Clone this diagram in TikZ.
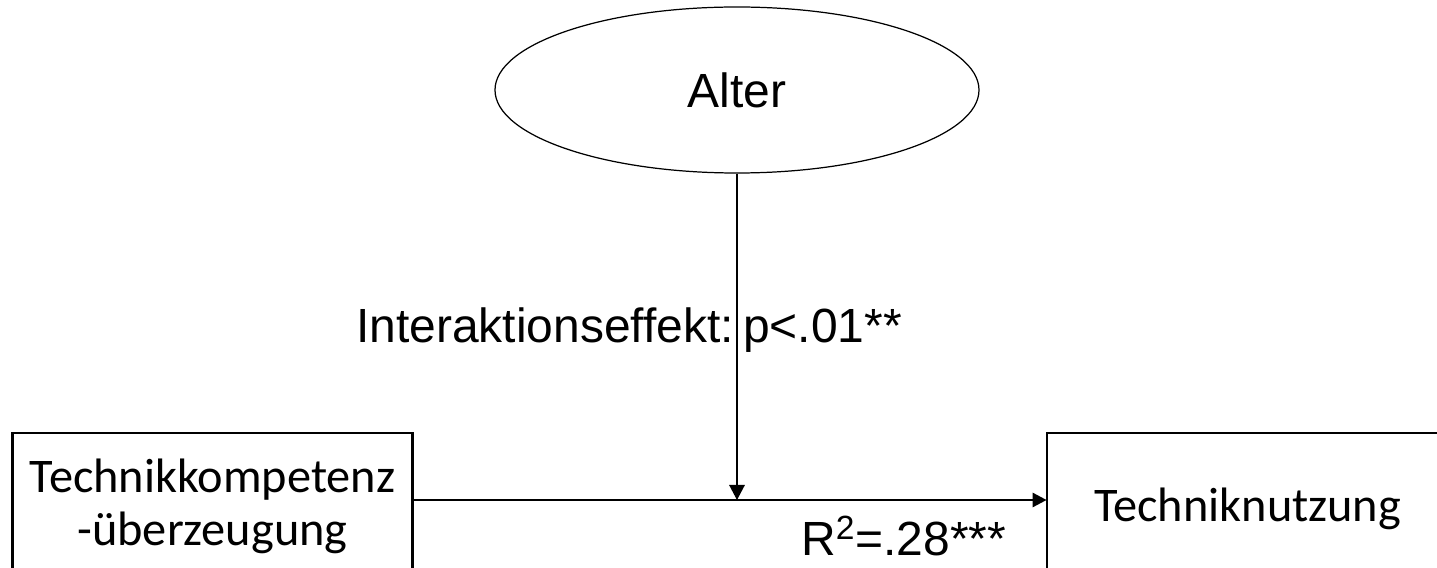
\documentclass[tikz,border=0pt]{standalone}
\usepackage{fontspec}
\setmainfont{Liberation Sans}
\newfontfamily\calibri{Carlito}
\usetikzlibrary{shapes.geometric,arrows.meta}
\begin{document}
\begin{tikzpicture}[>={Triangle[length=0.28cm,width=0.28cm]},
    textbox/.style={align=center,font=\calibri\fontsize{27.5}{30}\selectfont},
    arial/.style={font=\fontsize{27.3}{30}\selectfont}]
\clip (0,0) rectangle (28.74,11.34);
\node[ellipse,draw,line width=0.7pt,minimum width=9.68cm,minimum height=3.32cm,arial](alter) at (14.74,9.54){Alter};
\node[textbox,minimum width=8cm](kompetenz) at (4.25,1.21){Technikkompetenz\\-überzeugung};
\node[textbox,minimum width=8.02cm](nutzung) at (24.95,1.16){Techniknutzung};
\draw[line width=1.5pt](0.25,-0.5) rectangle (8.25,2.68);
\draw[line width=1.5pt](20.94,-0.5) rectangle (29.5,2.68);
\coordinate (knick) at (14.74,1.34);
\draw[line width=1.5pt,->](kompetenz.east |- knick)--(nutzung.west |- knick);
\draw[line width=0.75pt,->,>={Triangle[length=0.3cm,width=0.31cm]}](alter)--(knick);
\node[arial,anchor=base west](effekt) at (7.0,4.48){\spaceskip=0.1em Interaktionseffekt: p<.01**};
\node[arial,anchor=base west](rquadrat) at (15.90,0.24){R\textsuperscript{2}=.28***};

\end{tikzpicture}
\end{document}
